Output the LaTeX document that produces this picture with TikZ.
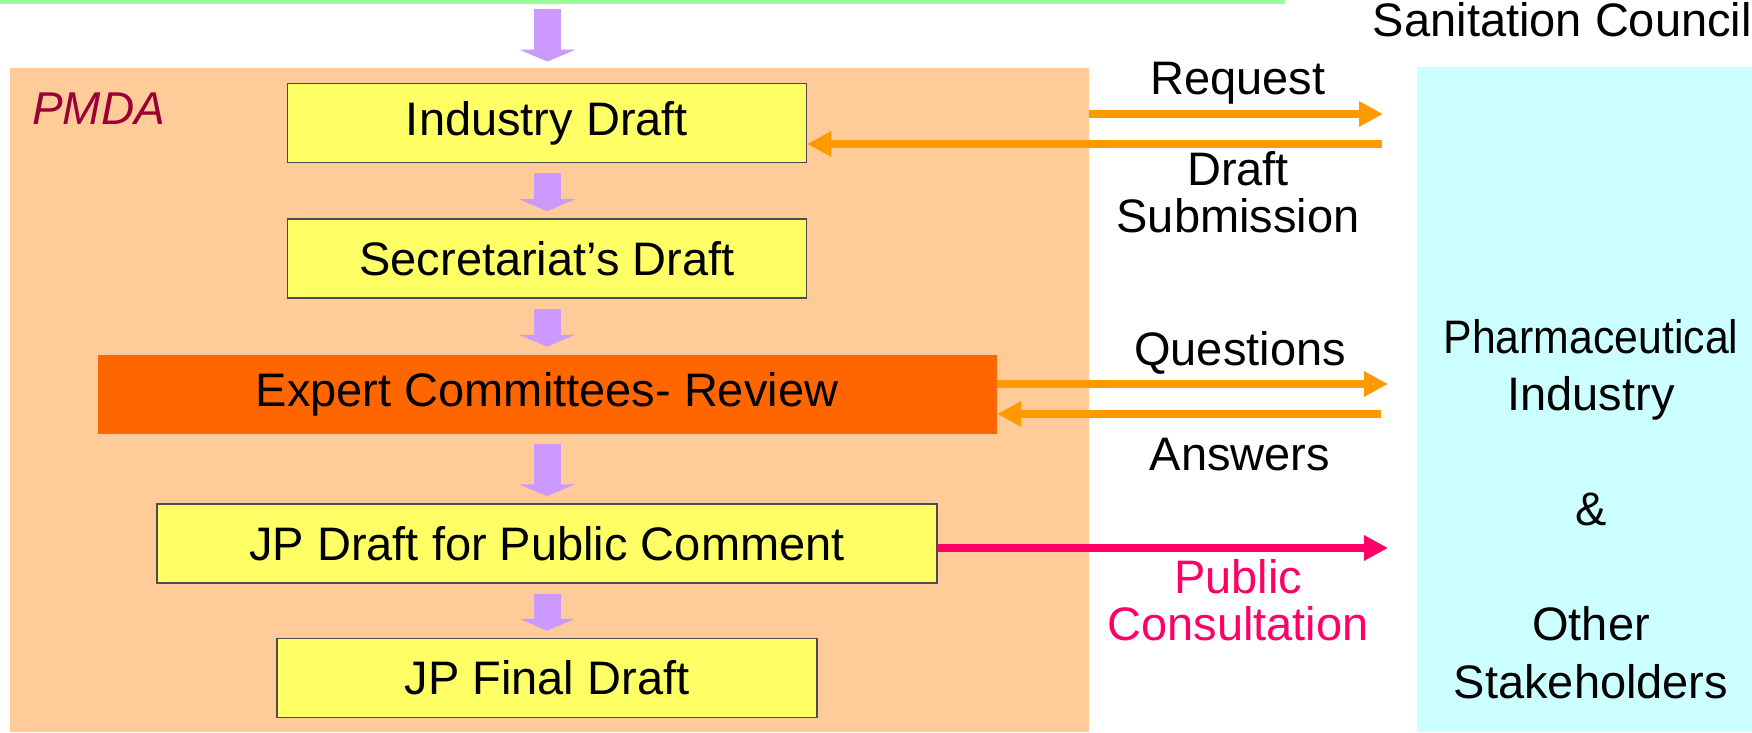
\documentclass[tikz,border=0pt]{standalone}
\usepackage{fontspec}
\setmainfont{Liberation Sans}
\usetikzlibrary{positioning, arrows.meta}
\definecolor{pmdaorange}{RGB}{255,204,153}
\definecolor{stakecyan}{RGB}{204,255,255}
\definecolor{draftyellow}{RGB}{255,255,102}
\definecolor{expertorange}{RGB}{255,102,0}
\definecolor{flowpurple}{RGB}{204,153,255}
\definecolor{arroworange}{RGB}{255,153,0}
\definecolor{publicpink}{RGB}{255,0,102}
\definecolor{pmdared}{RGB}{153,0,51}
\definecolor{councilgreen}{RGB}{153,255,153}

\begin{document}
\begin{tikzpicture}[
    x=1pt, y=1pt,
    font=\fontsize{47}{47}\selectfont,
    region/.style={rectangle, inner sep=0pt, anchor=south west},
    box/.style={rectangle, draw=black!70, line width=1.5pt, fill=draftyellow, minimum height=79pt, inner sep=0pt, text centered},
    flow/.style={line width=27pt, draw=flowpurple, -{Triangle[width=56pt, length=12pt]}, shorten <=10pt, shorten >=7pt},
    arrow/.style={line width=8pt, draw=arroworange, -{Triangle[width=24pt, length=24pt]}},
    lbl/.style={align=center, anchor=base, inner sep=0pt}
]
\useasboundingbox (0,0) rectangle (1752,732);

% Regions
\draw[councilgreen, line width=4pt] (0,730) -- (1285,730);
\coordinate (council) at (547.5,728);
\node[region, fill=pmdaorange, minimum width=1079pt, minimum height=664pt] (pmda) at (10,0) {};
\node[region, fill=stakecyan, minimum width=335pt, minimum height=665pt] (stake) at (1417,0) {};
\node[lbl, anchor=base west, text=pmdared, font=\fontsize{46}{46}\selectfont\itshape] (pmdalbl) at (32,607) {PMDA};
\node[lbl, anchor=base east] (councillbl) at (1752,695) {Sanitation Council};

% Drafting steps
\node[box, minimum width=519pt] (ind) at (547,609) {Industry Draft};
\node[box, minimum width=519pt, below=55pt of ind] (sec) {Secretariat's Draft};
\node[box, fill=expertorange, draw=none, minimum width=899pt, below=55pt of sec] (exp) {Expert Committees- Review};
\node[box, minimum width=780pt, below=69pt of exp] (jpd) {JP Draft for Public Comment};
\node[box, minimum width=540pt, below=54pt of jpd] (fin) {JP Final Draft};

% Flow arrows
\draw[flow, shorten <=5pt, shorten >=6pt] (council) -- (council |- pmda.north);
\draw[flow] (ind) -- (sec);
\draw[flow] (sec) -- (exp);
\draw[flow] (exp) -- (jpd);
\draw[flow] (jpd) -- (fin);

% Exchange with stakeholders
\coordinate (reqy) at (0,618);
\coordinate (suby) at (0,588);
\coordinate (qsty) at (0,348);
\coordinate (ansy) at (0,318);
\coordinate (puby) at (0,184);
\draw[arrow, shorten >=34pt] (pmda.east |- reqy) -- (stake.west |- reqy);
\draw[arrow, shorten <=35pt] (stake.west |- suby) -- (ind.east |- suby);
\draw[arrow, shorten >=29pt] (exp.east |- qsty) -- (stake.west |- qsty);
\draw[arrow, shorten <=36pt] (stake.west |- ansy) -- (exp.east |- ansy);
\draw[arrow, draw=publicpink, shorten >=29pt] (jpd.east |- puby) -- (stake.west |- puby);

% Labels (multi-line labels sit on their last baseline)
\node[lbl] (reqlbl) at (1238,637) {Request};
\node[lbl] (sublbl) at (1238,499) {Draft\\Submission};
\node[lbl] (qstlbl) at (1240,367) {Questions};
\node[lbl] (anslbl) at (1240,262) {Answers};
\node[lbl, text=publicpink] (publbl) at (1238,92) {Public\\Consultation};
\node[lbl, font=\fontsize{47}{57.5}\selectfont] (stakelbl) at (1591,34) {\scalebox{0.91}[1]{Pharmaceutical}\\Industry\\[57.5pt]\&\\[57.5pt]Other\\Stakeholders};

\end{tikzpicture}
\end{document}
